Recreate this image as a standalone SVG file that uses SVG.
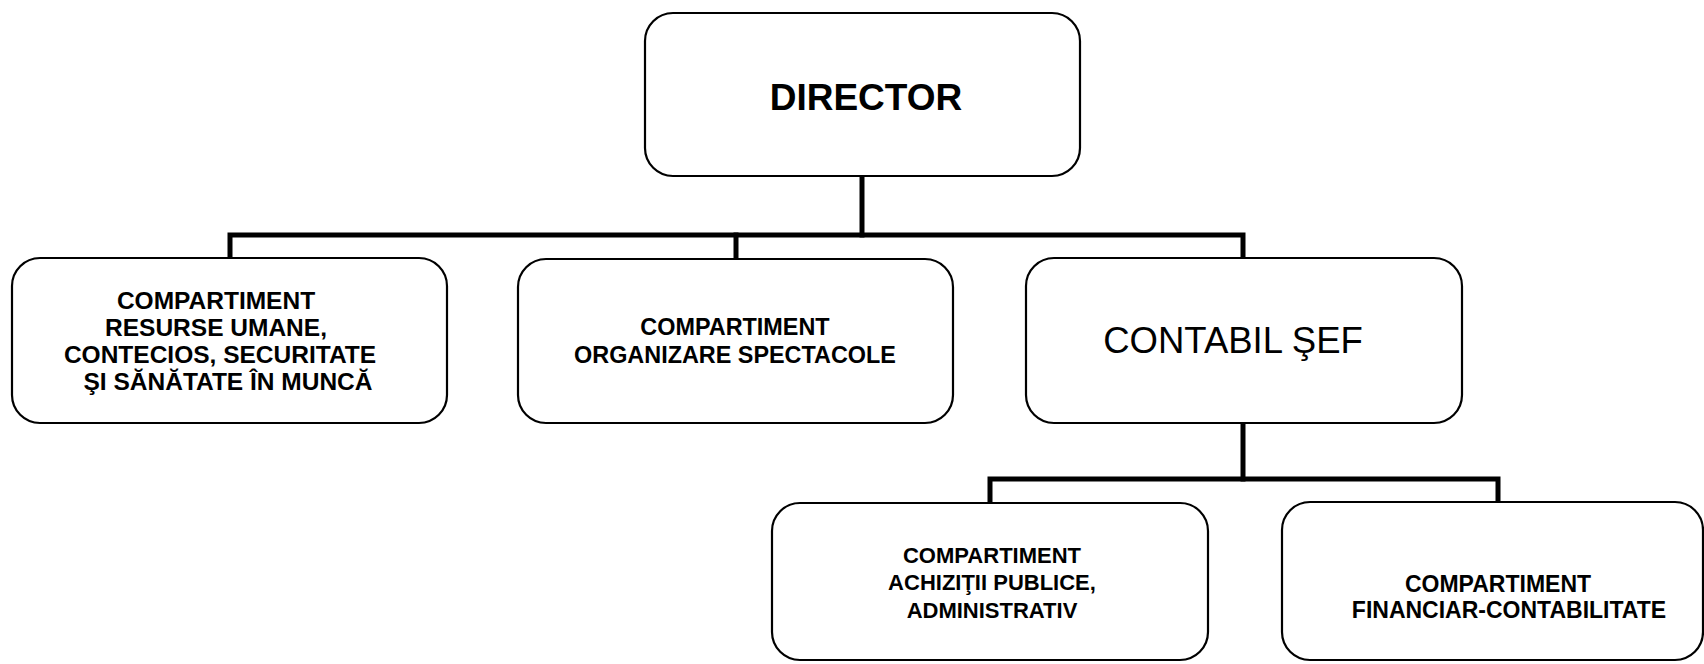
<svg xmlns="http://www.w3.org/2000/svg" width="1704" height="664" viewBox="0 0 1704 664">
<style>
.box{fill:#ffffff;stroke:#000000;stroke-width:2.2}
.con{fill:none;stroke:#000000;stroke-width:5;stroke-linejoin:miter;stroke-linecap:square}
.t{font-family:"Liberation Sans",Arial,sans-serif;font-weight:bold;fill:#000000;text-anchor:middle}
.big{font-family:"Liberation Sans",Arial,sans-serif;fill:#000000;text-anchor:middle}
</style>
<rect width="1704" height="664" fill="#ffffff"/>
<g id="connectors">
<path class="con" d="M862 176 V235"/>
<path class="con" d="M230 258 V235 H1243 V258"/>
<path class="con" d="M736 235 V258"/>
<path class="con" d="M1243 423 V479"/>
<path class="con" d="M990 503 V479 H1498 V502"/>
</g>
<g id="director">
<rect class="box" x="645" y="13" width="435" height="163" rx="28"/>
<text class="t" x="866" y="110" font-size="37">DIRECTOR</text>
</g>
<g id="resurse-umane">
<rect class="box" x="12" y="258" width="435" height="165" rx="28"/>
<text class="t" font-size="24.5"><tspan x="216" y="309">COMPARTIMENT</tspan><tspan x="216" y="336">RESURSE UMANE,</tspan><tspan x="220" y="363">CONTECIOS, SECURITATE</tspan><tspan x="228" y="390">ŞI SĂNĂTATE ÎN MUNCĂ</tspan></text>
</g>
<g id="organizare-spectacole">
<rect class="box" x="518" y="259" width="435" height="164" rx="28"/>
<text class="t" font-size="23.4"><tspan x="735" y="335">COMPARTIMENT</tspan><tspan x="735" y="363">ORGANIZARE SPECTACOLE</tspan></text>
</g>
<g id="contabil-sef">
<rect class="box" x="1026" y="258" width="436" height="165" rx="28"/>
<text class="big" x="1233" y="353" font-size="36.5">CONTABIL ŞEF</text>
</g>
<g id="achizitii-publice">
<rect class="box" x="772" y="503" width="436" height="157" rx="28"/>
<text class="t" font-size="22"><tspan x="992" y="563">COMPARTIMENT</tspan><tspan x="992" y="590">ACHIZIŢII PUBLICE,</tspan><tspan x="992" y="618">ADMINISTRATIV</tspan></text>
</g>
<g id="financiar-contabilitate">
<rect class="box" x="1282" y="502" width="421" height="158" rx="28"/>
<text class="t" font-size="23"><tspan x="1498" y="592">COMPARTIMENT</tspan><tspan x="1509" y="618">FINANCIAR-CONTABILITATE</tspan></text>
</g>
</svg>
